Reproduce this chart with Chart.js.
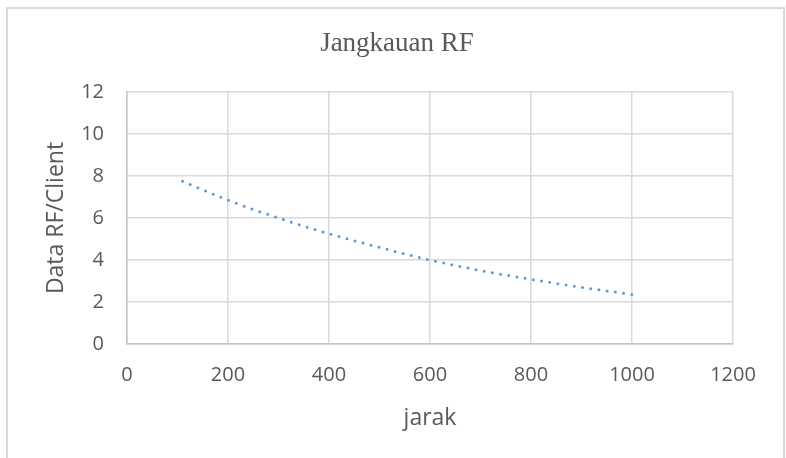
<!DOCTYPE html>
<html>
<head>
<meta charset="utf-8">
<title>Jangkauan RF</title>
<script src="https://cdn.jsdelivr.net/npm/chart.js@4/dist/chart.umd.min.js"></script>
<style>
  html, body { margin: 0; padding: 0; background: #fff; }
  #wrap { position: relative; width: 786px; height: 458px; overflow: hidden; }
  #frame {
    position: absolute; left: 6px; top: 7px; width: 779px; height: 480px;
    border: 2px solid #d9d9d9; box-sizing: border-box;
  }
  canvas { position: absolute; left: 0; top: 0; }
</style>
</head>
<body>
<div id="wrap">
  <div id="frame"></div>
  <canvas id="chart" width="786" height="458"></canvas>
</div>
<script>
// Jangkauan RF: data RF/client against jarak (distance), Excel-style dotted curve

// ── Data ───────────────────────────────────────────────────────────────────
const jarak    = [110, 200, 300, 400, 500, 600, 700, 800, 900, 1000];
const dataRF   = [7.75, 6.85, 6.0, 5.25, 4.6, 4.0, 3.5, 3.08, 2.7, 2.36];
const xTicks   = [0, 200, 400, 600, 800, 1000, 1200];
const yTicks   = [0, 2, 4, 6, 8, 10, 12];

const TEXT  = '#595959';
const GRID  = '#d9d9d9';
const AXIS  = '#c4c4c4';
const BLUE  = '#5b9bd5';
const SANS  = 'Open Sans';

const points = jarak.map((x, i) => ({ x, y: dataRF[i] }));

new Chart(document.getElementById('chart'), {
  type: 'scatter',
  data: {
    datasets: [{
      label: 'Data RF/Client',
      data: points,
      showLine: true,
      borderColor: BLUE,
      borderWidth: 3,
      borderDash: [0, 8.3],
      borderCapStyle: 'round',
      cubicInterpolationMode: 'monotone',
      pointRadius: 0,
      pointHoverRadius: 0
    }]
  },
  options: {
    responsive: false,
    devicePixelRatio: 1,
    animation: false,
    // left/right padding balanced so the chart title lands where Excel put it
    layout: { padding: { left: 8, right: 0, top: 0, bottom: 0 } },
    plugins: {
      legend: { display: false },
      tooltip: { enabled: false },
      title: {
        display: true,
        text: 'Jangkauan RF',
        color: TEXT,
        font: { family: 'Liberation Serif', size: 27, weight: 'normal', lineHeight: 1.2 },
        padding: { top: 28, bottom: 31.6 }
      }
    },
    scales: {
      x: {
        type: 'linear',
        min: 0,
        max: 1200,
        afterBuildTicks: s => { s.ticks = xTicks.map(v => ({ value: v })); },
        afterFit: s => { s.height = 114; },
        ticks: {
          color: TEXT,
          font: { family: SANS, size: 20, lineHeight: 1.2 },
          padding: 19.5,
          maxRotation: 0,
          callback: v => String(v)
        },
        grid: { color: GRID, lineWidth: 1.5, drawTicks: false },
        border: { color: AXIS, width: 1.5 },
        title: {
          display: true,
          text: 'jarak',
          color: TEXT,
          font: { family: SANS, size: 23, lineHeight: 1.2 },
          padding: { top: 0, bottom: 26 }
        }
      },
      y: {
        type: 'linear',
        min: 0,
        max: 12,
        afterBuildTicks: s => { s.ticks = yTicks.map(v => ({ value: v })); },
        afterFit: s => { s.width = 119; },
        ticks: {
          color: TEXT,
          font: { family: SANS, size: 20, lineHeight: 1.2 },
          padding: 23,
          callback: v => String(v)
        },
        grid: { color: GRID, lineWidth: 1.5, drawTicks: false },
        border: { color: AXIS, width: 1.5 },
        title: {
          display: true,
          text: 'Data RF/Client',
          color: TEXT,
          font: { family: SANS, size: 23, lineHeight: 1.2 },
          padding: { top: 35, bottom: 0 }
        }
      },
      // empty right-hand spacer: keeps the plot right edge at 1200 = x 733
      spacer: {
        type: 'linear',
        position: 'right',
        min: 0,
        max: 12,
        afterFit: s => { s.width = 53; },
        ticks: { display: false },
        grid: { display: false, drawOnChartArea: false },
        border: { display: false }
      }
    }
  }
});
</script>
</body>
</html>
